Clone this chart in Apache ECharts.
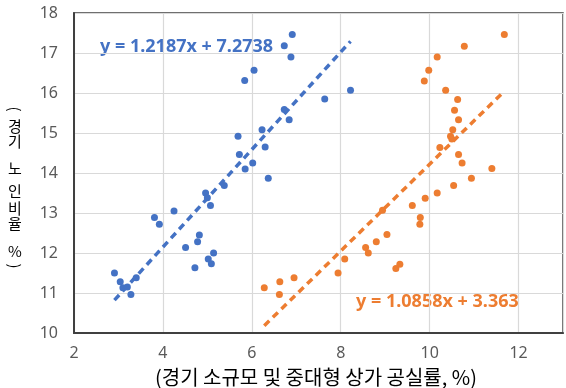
<!DOCTYPE html>
<html><head><meta charset="utf-8">
<script src="https://cdn.jsdelivr.net/npm/echarts@6/dist/echarts.min.js"></script>
<style>html,body{margin:0;padding:0;background:#fff}#c{width:566px;height:388px}</style>
</head><body><div id="c"></div>
<script>
// Blue series: 경기 소규모 상가 공실률 vs 노인비율
const blueX = [2.91,3.04,3.10,3.20,3.28,3.40,3.81,3.92,4.25,4.51,4.72,4.78,4.82,4.96,5.00,5.02,5.07,5.09,5.14,5.38,5.69,5.72,5.84,5.85,6.02,6.05,6.23,6.30,6.37,6.73,6.73,6.84,6.88,6.91,7.64,8.22];
const blueY = [11.50,11.28,11.13,11.15,10.96,11.38,12.89,12.72,13.05,12.14,11.63,12.28,12.45,13.50,13.38,11.85,13.19,11.73,12.00,13.69,14.92,14.46,16.31,14.10,14.25,16.57,15.08,14.65,13.87,15.59,17.18,15.33,16.90,17.46,15.85,16.07];
// Orange series: 경기 중대형 상가 공실률 vs 노인비율
const orangeX = [6.28,6.62,6.63,6.95,7.94,8.09,8.56,8.62,8.80,8.94,9.04,9.24,9.33,9.61,9.78,9.79,9.90,9.88,9.98,10.17,10.17,10.23,10.36,10.47,10.50,10.52,10.54,10.56,10.63,10.65,10.65,10.73,10.78,10.94,11.40,11.68];
const orangeY = [11.13,10.96,11.28,11.38,11.50,11.85,12.14,12.00,12.28,13.07,12.46,11.61,11.72,13.19,12.72,12.89,13.37,16.30,16.57,13.50,16.90,14.64,16.07,14.92,14.85,15.08,13.69,15.57,15.84,15.33,14.46,14.25,17.17,13.87,14.11,17.46];
// Linear trendlines
const trendSlopes = [1.2187, 1.0858];
const trendIntercepts = [7.2738, 3.363];
const equationLabels = ['y = 1.2187x + 7.2738', 'y = 1.0858x + 3.363'];
const xAxisTitle = '(경기 소규모 및 중대형 상가 공실률, %)';
const yAxisTitleChars = ['(','경','기','노','인','비','율','%',')'];

const BLUE = '#4472C4', ORANGE = '#ED7D31';
const zip = (xs, ys) => xs.map((x, i) => [x, ys[i]]);
const trend = (xs, k) => {
  const a = Math.min(...xs), b = Math.max(...xs);
  return [[a, trendSlopes[k]*a + trendIntercepts[k]], [b, trendSlopes[k]*b + trendIntercepts[k]]];
};

const chart = echarts.init(document.getElementById('c'), null, {renderer:'canvas'});
const yTitlePos = [109, 126, 141, 168, 191, 208, 223, 251, 266];
const numFont = '"Noto Sans", "Open Sans", sans-serif';
const korFont = '"Noto Sans CJK KR", sans-serif';

chart.setOption({
  animation: false,
  backgroundColor: '#fff',
  grid: { left: 74, top: 13, right: -6, bottom: 55, show: true, borderColor: '#404040', borderWidth: 1.5, backgroundColor: 'transparent' },
  xAxis: {
    type: 'value', min: 2, max: 13, interval: 2,
    axisLine: { show: true, lineStyle: { color: '#404040', width: 2 } },
    axisTick: { show: false },
    axisLabel: { color: '#595959', fontSize: 16, fontFamily: numFont, margin: 12,
      formatter: v => (v % 2 === 0 && v <= 12) ? String(v) : '' },
    splitLine: { show: true, lineStyle: { color: '#D9D9D9', width: 1.2 } },
  },
  yAxis: {
    type: 'value', min: 10, max: 18, interval: 1,
    axisLine: { show: true, lineStyle: { color: '#404040', width: 2 } },
    axisTick: { show: false },
    axisLabel: { color: '#595959', fontSize: 16, fontFamily: numFont, margin: 16 },
    splitLine: { show: true, lineStyle: { color: '#D9D9D9', width: 1.2 } },
  },
  series: [
    { type: 'line', data: trend(blueX, 0), showSymbol: false, symbol: 'none', z: 3,
      lineStyle: { color: BLUE, width: 3.5, type: [7, 5], cap: 'butt' } },
    { type: 'line', data: trend(orangeX, 1), showSymbol: false, symbol: 'none', z: 3,
      lineStyle: { color: ORANGE, width: 3.5, type: [7, 5], cap: 'butt' } },
    { type: 'scatter', data: zip(blueX, blueY), symbolSize: 7, itemStyle: { color: BLUE, opacity: 1 }, z: 4 },
    { type: 'scatter', data: zip(orangeX, orangeY), symbolSize: 7, itemStyle: { color: ORANGE, opacity: 1 }, z: 4 },
  ],
  graphic: [
    { type: 'text', x: 100, y: 47, style: { text: equationLabels[0], fill: BLUE, font: 'bold 18px ' + numFont, verticalAlign: 'middle' } },
    { type: 'text', x: 356, y: 302, style: { text: equationLabels[1], fill: ORANGE, font: 'bold 18px ' + numFont, verticalAlign: 'middle' } },
    { type: 'text', x: 316, y: 377, style: { text: xAxisTitle, fill: '#000', font: '20px ' + korFont, align: 'center', verticalAlign: 'middle' } },
    ...yAxisTitleChars.map((ch, i) => ({ type: 'text', x: 15, y: yTitlePos[i],
      rotation: (ch === '(' || ch === ')') ? -Math.PI / 2 : 0,
      style: { text: ch, fill: '#000', font: '15px ' + korFont, align: 'center', verticalAlign: 'middle' } })),
  ],
});
</script></body></html>
